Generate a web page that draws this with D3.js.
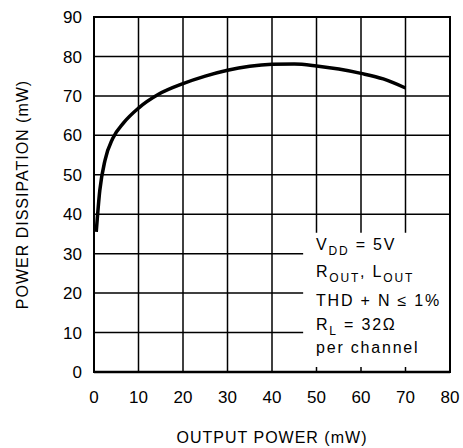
<!DOCTYPE html>
<html>
<head>
<meta charset="utf-8">
<script src="https://cdn.jsdelivr.net/npm/d3@7/dist/d3.min.js"></script>
<style>
    html, body { margin: 0; padding: 0; background: #fff; }
    text { font-family: "Liberation Sans", Arial, sans-serif; fill: #000; }
</style>
</head>
<body>
<svg id="chart" width="463" height="448"></svg>
<script>
// Power dissipation vs output power
const outputPower = [0.5, 1.3, 2.5, 4.2, 6.6, 10, 14.5, 20, 25, 30, 35, 40, 45, 50, 55, 60, 65, 70];
const powerDissipation = [35.5, 46, 53.8, 59.2, 63.1, 66.9, 70.4, 73.1, 75, 76.5, 77.5, 78, 78.1, 77.6, 76.8, 75.7, 74.3, 72];

const xTicks = [0, 10, 20, 30, 40, 50, 60, 70, 80];
const yTicks = [0, 10, 20, 30, 40, 50, 60, 70, 80, 90];

const legendLines = [
    [{ t: 'V' }, { t: 'DD', sub: true }, { t: ' = 5V' }],
    [{ t: 'R' }, { t: 'OUT', sub: true }, { t: ', L' }, { t: 'OUT', sub: true }],
    [{ t: 'THD + N \u2264 1%' }],
    [{ t: 'R' }, { t: 'L', sub: true }, { t: ' = 32\u03A9' }],
    [{ t: 'per channel' }]
];

const margin = { left: 94, top: 17, right: 13, bottom: 76 };
const width = 463 - margin.left - margin.right;
const height = 448 - margin.top - margin.bottom;

const svg = d3.select('#chart');
const g = svg.append('g').attr('transform', `translate(${margin.left},${margin.top})`);

const x = d3.scaleLinear().domain([0, 80]).range([0, width]);
const y = d3.scaleLinear().domain([0, 90]).range([height, 0]);

// legend box cuts the grid lines
const boxLeft = x(47);
const boxTop = y(35.3);

// vertical grid
xTicks.slice(1, -1).forEach(v => {
    if (x(v) > boxLeft) {
        g.append('line').attr('x1', x(v)).attr('x2', x(v)).attr('y1', 0).attr('y2', boxTop)
            .attr('stroke', '#000').attr('stroke-width', 1.5);
        g.append('line').attr('x1', x(v)).attr('x2', x(v)).attr('y1', height - 5).attr('y2', height)
            .attr('stroke', '#000').attr('stroke-width', 1.5);
    } else {
        g.append('line').attr('x1', x(v)).attr('x2', x(v)).attr('y1', 0).attr('y2', height)
            .attr('stroke', '#000').attr('stroke-width', 1.5);
    }
});

// horizontal grid
yTicks.slice(1, -1).forEach(v => {
    const x2 = y(v) > boxTop ? boxLeft : width;
    g.append('line').attr('x1', 0).attr('x2', x2).attr('y1', y(v)).attr('y2', y(v))
        .attr('stroke', '#000').attr('stroke-width', 1.5);
});

// frame
g.append('rect').attr('x', 0).attr('y', 0).attr('width', width).attr('height', height)
    .attr('fill', 'none').attr('stroke', '#000').attr('stroke-width', 2);
g.append('line').attr('x1', 0).attr('x2', width).attr('y1', height).attr('y2', height)
    .attr('stroke', '#000').attr('stroke-width', 2.5);

// tick labels
g.append('g').selectAll('text').data(yTicks).join('text')
    .attr('x', -12).attr('y', d => y(d)).attr('dy', '0.36em')
    .attr('text-anchor', 'end').attr('font-size', 17)
    .text(d => d);

g.append('g').selectAll('text').data(xTicks).join('text')
    .attr('x', d => x(d)).attr('y', height + 25).attr('dy', '0.36em')
    .attr('text-anchor', 'middle').attr('font-size', 17)
    .text(d => d);

// axis titles
g.append('text')
    .attr('x', width / 2).attr('y', height + 71)
    .attr('text-anchor', 'middle').attr('font-size', 16).attr('letter-spacing', 1)
    .text('OUTPUT POWER (mW)');

g.append('text')
    .attr('transform', `translate(${-66},${height / 2}) rotate(-90)`)
    .attr('text-anchor', 'middle').attr('font-size', 16).attr('letter-spacing', 1)
    .text('POWER DISSIPATION (mW)');

// curve
const line = d3.line()
    .x((d, i) => x(outputPower[i]))
    .y(d => y(d))
    .curve(d3.curveMonotoneX);

g.append('path').datum(powerDissipation)
    .attr('d', line)
    .attr('fill', 'none').attr('stroke', '#000').attr('stroke-width', 3.5)
    .attr('stroke-linecap', 'butt');

// legend
const baselines = [250, 277, 306, 330, 353];
legendLines.forEach((parts, i) => {
    const t = svg.append('text')
        .attr('x', 316).attr('y', baselines[i])
        .attr('font-size', 16).attr('letter-spacing', 1.8)
        .style('white-space', 'pre');
    parts.forEach(p => {
        const ts = t.append('tspan').text(p.t);
        if (p.sub) ts.attr('font-size', 12).attr('dy', 5);
        else if (t.node().childNodes.length > 1) ts.attr('dy', -5);
    });
});
</script>
</body>
</html>
